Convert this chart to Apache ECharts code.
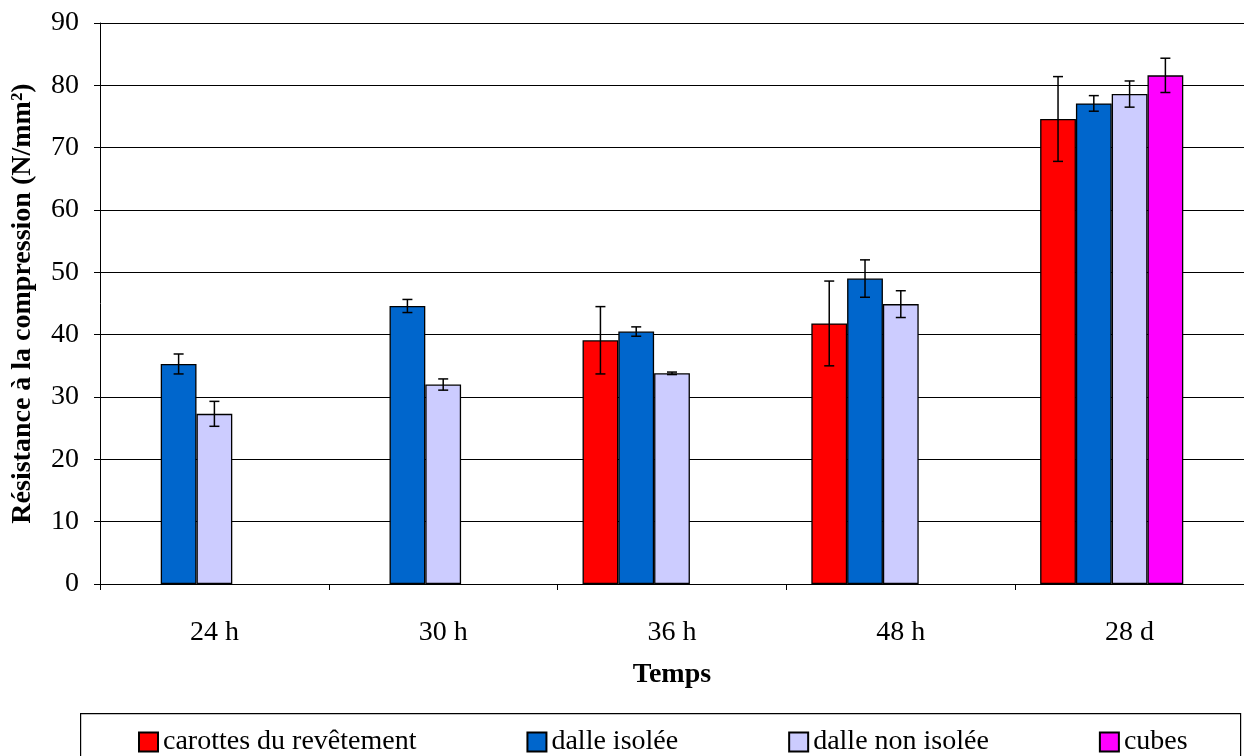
<!DOCTYPE html>
<html>
<head>
<meta charset="utf-8">
<script src="https://cdn.jsdelivr.net/npm/echarts@6/dist/echarts.min.js"></script>
<style>
html,body{margin:0;padding:0;background:#fff;}
#chart{width:1244px;height:756px;}
</style>
</head>
<body>
<div id="chart"></div>
<script>
var categories = ['24 h', '30 h', '36 h', '48 h', '28 d'];
var seriesNames = ['carottes du revêtement', 'dalle isolée', 'dalle non isolée', 'cubes'];
var carottes = [null, null, 39.1, 41.8, 74.6];
var carottesErr = [null, null, 5.4, 6.8, 6.8];
var dalleIsolee = [35.3, 44.6, 40.5, 49.0, 77.1];
var dalleIsoleeErr = [1.6, 1.05, 0.75, 3.0, 1.25];
var dalleNonIsolee = [27.3, 32.0, 33.8, 44.9, 78.6];
var dalleNonIsoleeErr = [2.0, 0.9, 0.2, 2.15, 2.1];
var cubes = [null, null, null, null, 81.6];
var cubesErr = [null, null, null, null, 2.75];
var yTicks = [0, 10, 20, 30, 40, 50, 60, 70, 80, 90];

var colors = ['#FF0000', '#0066CC', '#CCCCFF', '#FF00FF'];
var values = [carottes, dalleIsolee, dalleNonIsolee, cubes];
var errs = [carottesErr, dalleIsoleeErr, dalleNonIsoleeErr, cubesErr];
var FONT = "'Liberation Serif', 'Times New Roman', serif";
var SLOTS = 5;
var CAT_GAP = 0.218;

var series = [];
for (var s = 0; s < 4; s++) {
  series.push({
    name: seriesNames[s],
    type: 'bar',
    data: values[s],
    barGap: '0%',
    barCategoryGap: (CAT_GAP * 100) + '%',
    itemStyle: {color: colors[s], borderColor: '#000', borderWidth: 1.3},
    emphasis: {disabled: true},
    z: 2
  });
}
// empty placeholder slot (the source chart reserves a fifth, empty slot)
series.push({
  name: '_empty', type: 'bar', data: [null, null, null, null, null],
  barGap: '0%', barCategoryGap: (CAT_GAP * 100) + '%'
});

var errData = [];
for (var s2 = 0; s2 < 4; s2++) {
  for (var c = 0; c < categories.length; c++) {
    if (values[s2][c] != null && errs[s2][c] != null) {
      errData.push([c, values[s2][c] - errs[s2][c], values[s2][c] + errs[s2][c], s2]);
    }
  }
}
series.push({
  type: 'custom',
  name: 'err',
  data: errData,
  encode: {x: 0, y: [1, 2]},
  z: 10,
  silent: true,
  renderItem: function (params, api) {
    var ci = api.value(0);
    var lo = api.coord([ci, api.value(1)]);
    var hi = api.coord([ci, api.value(2)]);
    var band = api.size([1, 0])[0];
    var bw = band * (1 - CAT_GAP) / SLOTS;
    var x = lo[0] + (api.value(3) - (SLOTS - 1) / 2) * bw;
    var cap = 5;
    var st = {stroke: '#000', lineWidth: 1.5};
    return {
      type: 'group',
      children: [
        {type: 'line', shape: {x1: x, y1: lo[1], x2: x, y2: hi[1]}, style: st},
        {type: 'line', shape: {x1: x - cap, y1: lo[1], x2: x + cap, y2: lo[1]}, style: st},
        {type: 'line', shape: {x1: x - cap, y1: hi[1], x2: x + cap, y2: hi[1]}, style: st}
      ]
    };
  }
});

var chart = echarts.init(document.getElementById('chart'), null, {renderer: 'canvas'});
chart.setOption({
  animation: false,
  backgroundColor: '#fff',
  textStyle: {fontFamily: FONT, color: '#000'},
  grid: {left: 100, right: 0, top: 23, bottom: 172, containLabel: false},
  legend: {
    data: seriesNames,
    left: 133, top: 723,
    itemWidth: 19, itemHeight: 19, itemGap: 110,
    icon: 'rect',
    selectedMode: false,
    textStyle: {fontFamily: FONT, fontSize: 28, color: '#000', padding: [0, 0, 0, 0]}
  },
  graphic: [{
    type: 'rect', left: 80, top: 713, z: -1,
    shape: {width: 1160, height: 80},
    style: {fill: '#fff', stroke: '#000', lineWidth: 1.2}
  }],
  xAxis: {
    type: 'category',
    data: categories,
    name: 'Temps',
    nameLocation: 'middle',
    nameGap: 77,
    nameTextStyle: {fontFamily: FONT, fontSize: 28, fontWeight: 'bold', color: '#000'},
    axisLine: {lineStyle: {color: '#000', width: 1}},
    axisTick: {show: true, alignWithLabel: false, length: 6, lineStyle: {color: '#000'}},
    axisLabel: {fontFamily: FONT, fontSize: 28, color: '#000', margin: 35},
    splitLine: {show: false}
  },
  yAxis: {
    type: 'value',
    min: yTicks[0], max: yTicks[yTicks.length - 1], interval: 10,
    name: 'Résistance à la compression (N/mm²)',
    nameLocation: 'middle',
    nameGap: 63,
    nameTextStyle: {fontFamily: FONT, fontSize: 28, fontWeight: 'bold', color: '#000'},
    axisLine: {show: true, lineStyle: {color: '#000', width: 1}},
    axisTick: {show: true, length: 6, lineStyle: {color: '#000'}},
    axisLabel: {fontFamily: FONT, fontSize: 28, color: '#000', margin: 21},
    splitLine: {show: true, lineStyle: {color: '#000', width: 1}}
  },
  series: series
});
</script>
</body>
</html>
